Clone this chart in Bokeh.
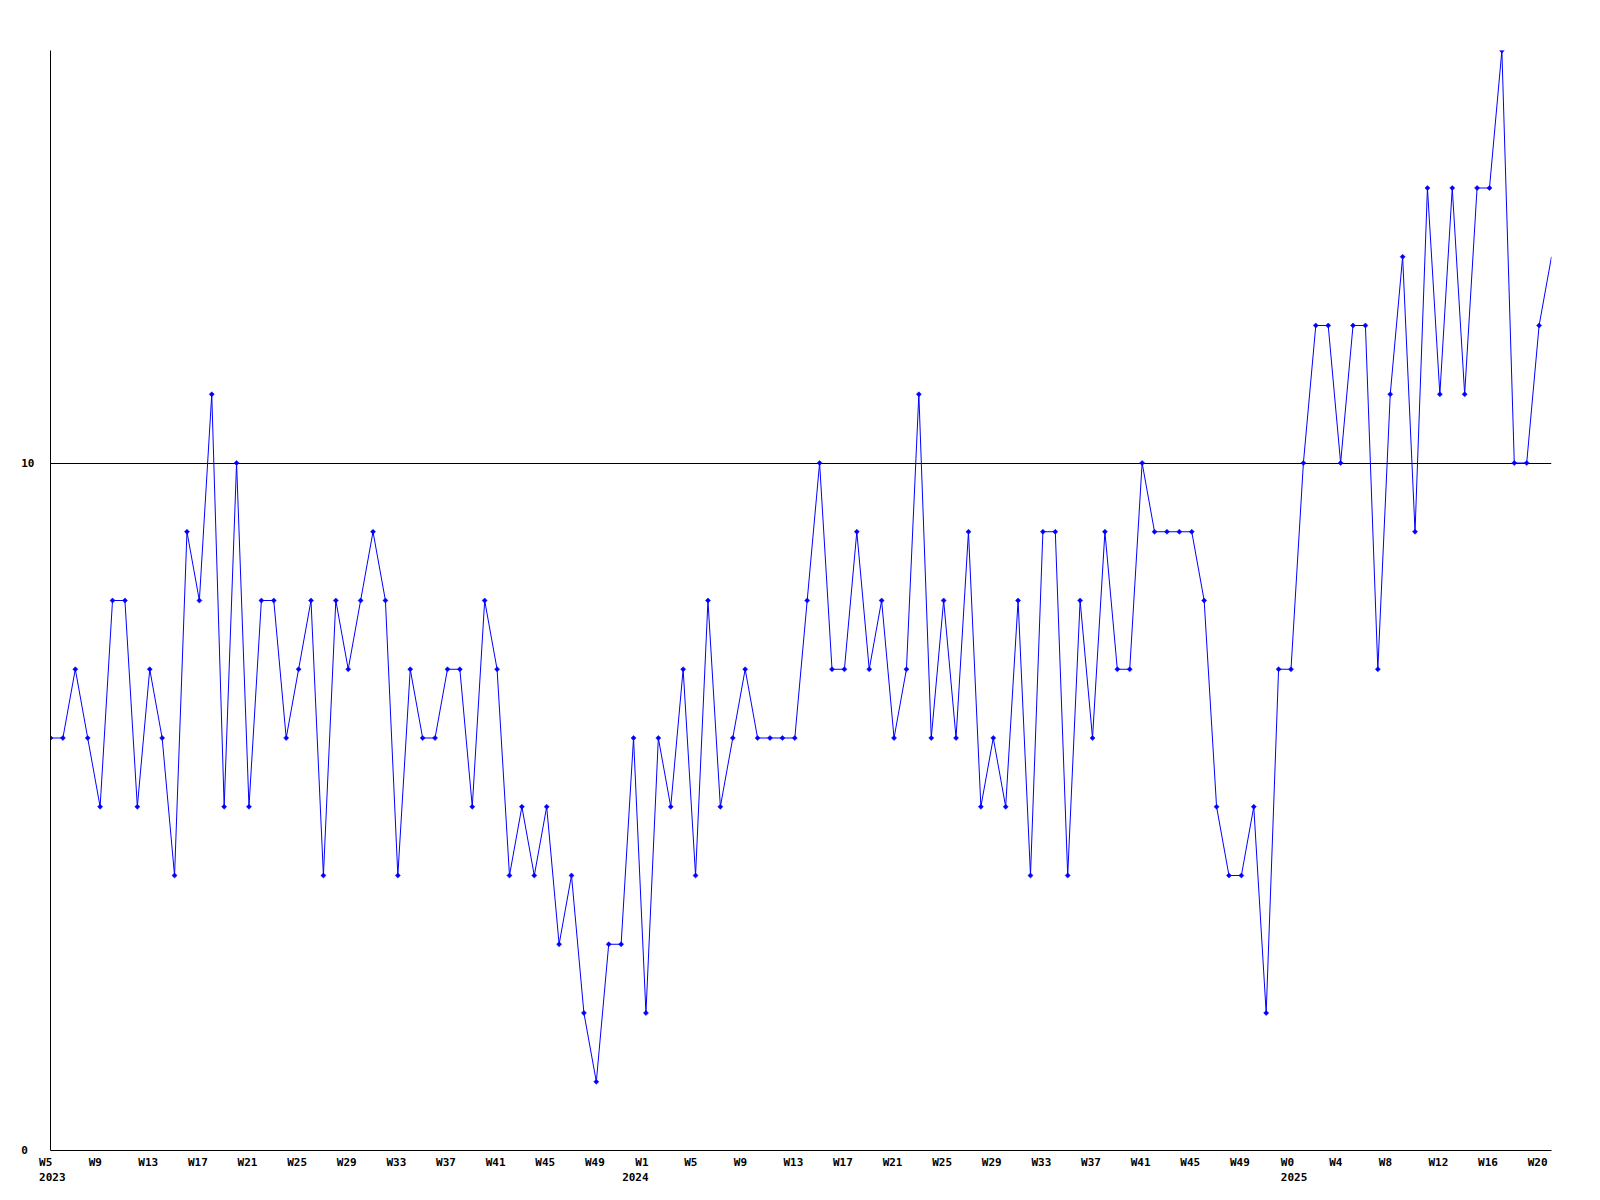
import math
from bokeh.plotting import figure
from bokeh.models import Range1d, FixedTicker, LinearAxis, ColumnDataSource
from bokeh.embed import file_html
from bokeh.resources import INLINE

# weekly values, 2023 W5 .. 2025 W21
values = [6, 6, 7, 6, 5, 8, 8, 5, 7, 6,
          4, 9, 8, 11, 5, 10, 5, 8, 8, 6,
          7, 8, 4, 8, 7, 8, 9, 8, 4, 7,
          6, 6, 7, 7, 5, 8, 7, 4, 5, 4,
          5, 3, 4, 2, 1, 3, 3, 6, 2, 6,
          5, 7, 4, 8, 5, 6, 7, 6, 6, 6,
          6, 8, 10, 7, 7, 9, 7, 8, 6, 7,
          11, 6, 8, 6, 9, 5, 6, 5, 8, 4,
          9, 9, 4, 8, 6, 9, 7, 7, 10, 9,
          9, 9, 9, 8, 5, 4, 4, 5, 2, 7,
          7, 10, 12, 12, 10, 12, 12, 7, 11, 13,
          9, 14, 11, 14, 11, 14, 14, 16, 10, 10,
          12, 13]
week_index = list(range(len(values)))

week_labels = ["W5", "W9", "W13", "W17", "W21", "W25", "W29", "W33", "W37", "W41", "W45", "W49",
               "W1", "W5", "W9", "W13", "W17", "W21", "W25", "W29", "W33", "W37", "W41", "W45", "W49",
               "W0", "W4", "W8", "W12", "W16", "W20"]
week_label_pos = [0, 4, 8, 12, 16, 20, 24, 28, 32, 36, 40, 44,
                  48, 52, 56, 60, 64, 68, 72, 76, 80, 84, 88, 92, 96,
                  100.1, 104, 108, 112, 116, 120]
year_labels = ["2023", "2024", "2025"]
year_label_pos = [0, 47, 100.1]
y_ticks = [0, 10]

FONT = "DejaVu Sans Mono"
FS = 11
ADV = 0.602 * FS
FRAME_W = 1501
FRAME_H = 1100
Y_MAX = 16
PX_PER_IDX = FRAME_W / (len(values) - 1)
NBSP = "\u00a0"


def text_style(obj, prefix):
    setattr(obj, prefix + "text_font", FONT)
    setattr(obj, prefix + "text_font_size", f"{FS}px")
    setattr(obj, prefix + "text_font_style", "bold")
    setattr(obj, prefix + "text_color", "black")


p = figure(frame_width=FRAME_W, frame_height=FRAME_H,
           x_range=Range1d(0, len(values) - 1), y_range=Range1d(0, Y_MAX),
           x_axis_type=None, output_backend="svg", toolbar_location=None,
           min_border_left=50, min_border_top=50, min_border_right=25, min_border_bottom=45)
p.outline_line_color = None
p.background_fill_color = "white"
p.border_fill_color = "white"

# Tick labels are drawn left-aligned, starting one week before their tick.
# Bokeh centres axis labels, so each tick is shifted by half the label width;
# the year goes on a second line under the week label nearest to it.
ticks, overrides = [], {}
years = dict(zip(year_label_pos, year_labels))
used_years = set()
for wpos, wk in zip(week_label_pos, week_labels):
    box_left = wpos - 1 + 1.0 / PX_PER_IDX
    text, nchar = wk, len(wk)
    for ypos, yr in years.items():
        if ypos not in used_years and 0 <= wpos - ypos <= 1.5:
            shift = round((wpos - ypos) * PX_PER_IDX / ADV)
            first = NBSP * shift + wk
            first = first + NBSP * (len(yr) - len(first))
            text = first + "\n" + yr
            nchar = len(yr)
            box_left = ypos - 1 + 1.0 / PX_PER_IDX
            used_years.add(ypos)
            break
    c = round(box_left + (nchar * ADV / 2) / PX_PER_IDX, 4)
    ticks.append(c)
    overrides[c] = text

ax = LinearAxis(ticker=FixedTicker(ticks=ticks), major_label_overrides=overrides)
ax.axis_line_color = "black"
ax.major_tick_line_color = None
ax.minor_tick_line_color = None
ax.major_tick_out = 0
ax.major_tick_in = 0
ax.major_label_standoff = 5
ax.major_label_text_line_height = 1.18
text_style(ax, "major_label_")
p.add_layout(ax, "below")

yax = p.yaxis[0]
yax.ticker = FixedTicker(ticks=y_ticks)
yax.major_label_overrides = {0: "0" + NBSP}
yax.axis_line_color = "black"
yax.major_tick_line_color = None
yax.minor_tick_line_color = None
yax.major_tick_out = 0
yax.major_tick_in = 0
yax.major_label_standoff = 16
text_style(yax, "major_label_")

p.ygrid.ticker = FixedTicker(ticks=[10])
p.ygrid.grid_line_color = "black"
p.ygrid.grid_line_alpha = 1.0
p.xgrid.visible = False

src = ColumnDataSource(dict(x=week_index, y=values))
pts = ColumnDataSource(dict(x=week_index[:-1], y=values[:-1]))
p.line("x", "y", source=src, line_color="#0000ff", line_width=1)
p.scatter("x", "y", source=pts, marker="square", angle=math.pi / 4, size=3.6,
          fill_color="#0000ff", line_color="#0000ff", line_width=0.5)

open("out.html", "w").write(file_html(p, INLINE))
